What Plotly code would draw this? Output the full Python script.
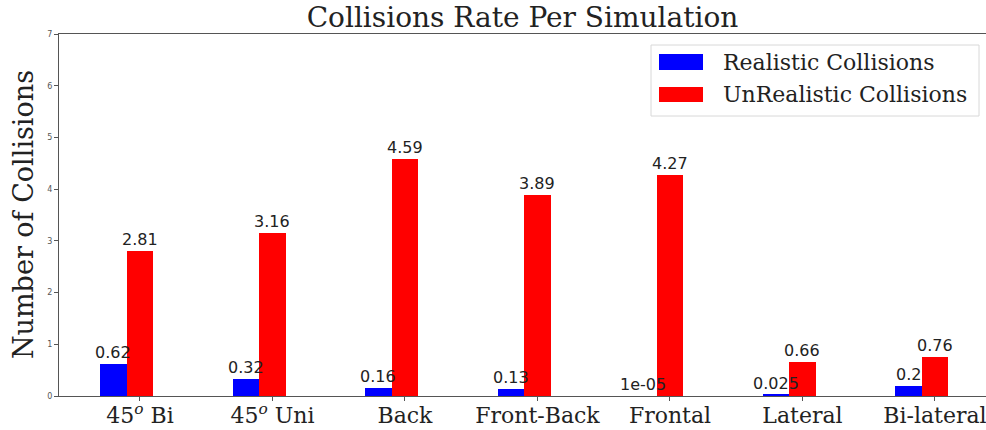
import plotly.graph_objects as go

# Collision counts per simulated scenario
categories = ["45<sup><i>o</i></sup> Bi", "45<sup><i>o</i></sup> Uni", "Back", "Front-Back",
              "Frontal", "Lateral", "Bi-lateral"]
realistic = [0.62, 0.32, 0.16, 0.13, 1e-05, 0.025, 0.2]
unrealistic = [2.81, 3.16, 4.59, 3.89, 4.27, 0.66, 0.76]
series_names = ["Realistic Collisions", "UnRealistic Collisions"]
y_ticks = [0, 1, 2, 3, 4, 5, 6, 7]

BLUE = "#0000ff"
RED = "#ff0000"
SERIF = "DejaVu Serif"
SANS = "DejaVu Sans"

W, H = 986, 430
L, R, T, B = 59, 0, 34, 34
BAR_W = 0.2

idx = list(range(len(categories)))
x_real = [i - BAR_W for i in idx]
x_unreal = idx

fig = go.Figure()
fig.add_trace(go.Bar(
    x=x_real, y=realistic, width=BAR_W, name=series_names[0],
    marker=dict(color=BLUE, line=dict(width=0)), showlegend=False,
))
fig.add_trace(go.Bar(
    x=x_unreal, y=unrealistic, width=BAR_W, name=series_names[1],
    marker=dict(color=RED, line=dict(width=0)), showlegend=False,
))

# Pixel -> paper helpers for the legend box
pw, ph = W - L - R, H - T - B
def px(x):
    return (x - L) / pw
def py(y):
    return (H - B - y) / ph

annotations = []
# Value labels above each bar, drawn on top of both series
for xs, ys in ((x_real, realistic), (x_unreal, unrealistic)):
    for x, v in zip(xs, ys):
        annotations.append(dict(
            x=x, y=v, xref="x", yref="y", text=str(v), showarrow=False,
            xanchor="center", yanchor="bottom", yshift=0,
            font=dict(family=SANS, size=16, color="#222")))

shapes = [
    dict(type="rect", xref="paper", yref="paper",
         x0=px(651), x1=px(979), y0=py(116), y1=py(45),
         line=dict(color="#d8d8d8", width=1), fillcolor="rgba(255,255,255,0.8)", layer="above"),
    dict(type="rect", xref="paper", yref="paper",
         x0=px(659), x1=px(703), y0=py(70), y1=py(54),
         line=dict(width=0), fillcolor=BLUE, layer="above"),
    dict(type="rect", xref="paper", yref="paper",
         x0=px(659), x1=px(703), y0=py(102), y1=py(87),
         line=dict(width=0), fillcolor=RED, layer="above"),
]
annotations += [
    dict(text=series_names[0], xref="paper", yref="paper", x=px(721), y=py(62),
         xanchor="left", yanchor="middle", showarrow=False,
         font=dict(family=SERIF, size=22, color="#222")),
    dict(text=series_names[1], xref="paper", yref="paper", x=px(721), y=py(95),
         xanchor="left", yanchor="middle", showarrow=False,
         font=dict(family=SERIF, size=22, color="#222")),
    dict(text="Number of Collisions", xref="paper", yref="paper", x=px(23), y=0.5,
         xanchor="center", yanchor="middle", textangle=-90, showarrow=False,
         font=dict(family=SERIF, size=27, color="#222")),
]

fig.update_layout(
    width=W, height=H,
    margin=dict(l=L, r=R, t=T, b=B),
    paper_bgcolor="white", plot_bgcolor="white",
    barmode="overlay", bargap=0,
    title=dict(text="Collisions Rate Per Simulation", x=0.5, xref="paper",
               y=1 - 17 / H, yref="container", xanchor="center", yanchor="middle",
               font=dict(family=SERIF, size=28, color="#222")),
    shapes=shapes, annotations=annotations,
    xaxis=dict(range=[-0.611, 6.385], tickvals=idx, ticktext=categories,
               showgrid=False, zeroline=False, automargin=False,
               ticklabeloverflow="allow", ticklabelstandoff=-4,
               showline=True, linecolor="#555", linewidth=1, mirror=True,
               ticks="outside", ticklen=4, tickcolor="#555",
               tickfont=dict(family=SERIF, size=22, color="#222")),
    yaxis=dict(range=[0, 7], tickvals=y_ticks, showgrid=False, zeroline=False,
               automargin=False,
               showline=True, linecolor="#555", linewidth=1,
               ticks="outside", ticklen=4, tickcolor="#555",
               tickfont=dict(family=SANS, size=8, color="#555")),
)

fig.write_html("out.html")
